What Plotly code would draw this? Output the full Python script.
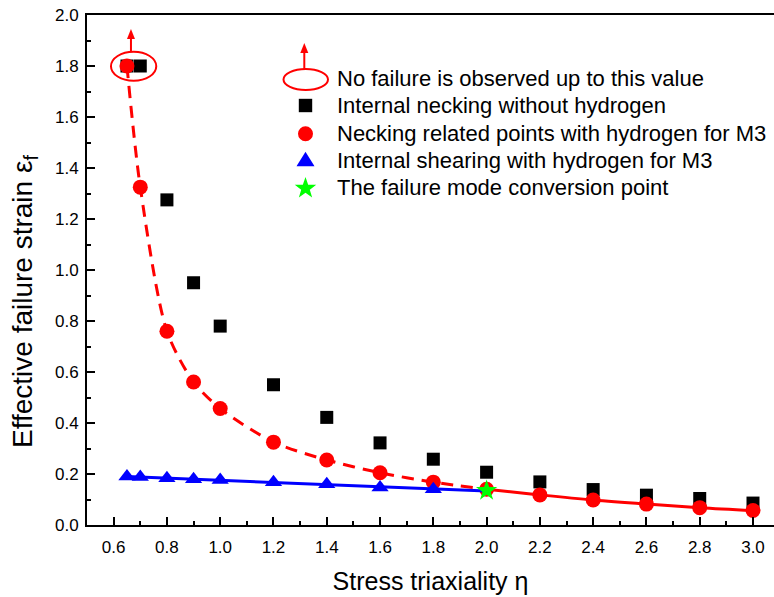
import numpy as np
import plotly.graph_objects as go

# ---------------- data ----------------
eta_no_h = [0.65, 0.7, 0.8, 0.9, 1.0, 1.2, 1.4, 1.6, 1.8, 2.0, 2.2, 2.4, 2.6, 2.8, 3.0]
eps_no_h = [1.8, 1.8, 1.275, 0.95, 0.78, 0.55, 0.422, 0.322, 0.258, 0.207, 0.169, 0.139, 0.117, 0.104, 0.086]

eta_neck_h = [0.65, 0.7, 0.8, 0.9, 1.0, 1.2, 1.4, 1.6, 1.8, 2.0, 2.2, 2.4, 2.6, 2.8, 3.0]
eps_neck_h = [1.8, 1.325, 0.76, 0.561, 0.457, 0.325, 0.255, 0.205, 0.168, 0.14, 0.118, 0.098, 0.082, 0.068, 0.057]

eta_shear_h = [0.65, 0.7, 0.8, 0.9, 1.0, 1.2, 1.4, 1.6, 1.8]
eps_shear_h = [0.19, 0.188, 0.183, 0.179, 0.176, 0.168, 0.16, 0.147, 0.14]

eta_conv = [2.0]
eps_conv = [0.135]

no_failure_eta = 0.675      # marked points reaching the test limit
no_failure_eps = 1.8

legend_labels = [
    "No failure is observed up to this value",
    "Internal necking without hydrogen",
    "Necking related points with hydrogen for M3",
    "Internal shearing with hydrogen for M3",
    "The failure mode conversion point",
]

x_ticks = [0.6, 0.8, 1.0, 1.2, 1.4, 1.6, 1.8, 2.0, 2.2, 2.4, 2.6, 2.8, 3.0]
y_ticks = [0.0, 0.2, 0.4, 0.6, 0.8, 1.0, 1.2, 1.4, 1.6, 1.8, 2.0]

# ---------------- layout constants ----------------
W, H = 774, 597
ML, MR, MT, MB = 87, 0, 15, 72
PW, PH = W - ML - MR, H - MT - MB
FONT = "Liberation Sans, Arial, sans-serif"
RED, BLUE, GREEN = "#FF0000", "#0000FF", "#00FF00"


def pxx(p):
    return (p - ML) / PW


def pxy(p):
    return (H - MB - p) / PH


fig = go.Figure()

# black squares
fig.add_trace(go.Scatter(x=eta_no_h, y=eps_no_h, mode="markers",
                         marker=dict(symbol="square", size=13, color="black"),
                         showlegend=False))

# red dashed (x <= 2.0) and solid (x >= 2.0) curves through the necking points
xn = np.array(eta_neck_h)
yn = np.array(eps_neck_h)
m1 = xn <= 2.0
m2 = xn >= 2.0
fig.add_trace(go.Scatter(x=xn[m1], y=yn[m1], mode="lines",
                         line=dict(color=RED, width=3, dash="12px,8px", shape="spline", smoothing=0.8),
                         showlegend=False))
fig.add_trace(go.Scatter(x=xn[m2], y=yn[m2], mode="lines",
                         line=dict(color=RED, width=3, shape="spline"),
                         showlegend=False))
fig.add_trace(go.Scatter(x=eta_neck_h, y=eps_neck_h, mode="markers",
                         marker=dict(symbol="circle", size=15, color=RED),
                         showlegend=False))

# blue fit line through shearing points + conversion point
xs = np.array(eta_shear_h + eta_conv)
ys = np.array(eps_shear_h + eps_conv)
coef = np.polyfit(xs, ys, 2)
xf = np.linspace(xs.min(), xs.max(), 60)
fig.add_trace(go.Scatter(x=xf, y=np.polyval(coef, xf), mode="lines",
                         line=dict(color=BLUE, width=3), showlegend=False))
fig.add_trace(go.Scatter(x=eta_shear_h, y=eps_shear_h, mode="markers",
                         marker=dict(symbol="triangle-up", size=15, color=BLUE),
                         showlegend=False))
fig.add_trace(go.Scatter(x=eta_conv, y=eps_conv, mode="markers",
                         marker=dict(symbol="star", size=16, color=GREEN),
                         showlegend=False))

shapes = []
annotations = []
HEAD = "M 0,0 L -4,-10 L 4,-10 Z"   # arrow head, pixel units, tip at anchor

# ellipse + arrow around the "no failure" points
shapes.append(dict(type="circle", xref="x", yref="y",
                   x0=no_failure_eta - 0.085, x1=no_failure_eta + 0.085,
                   y0=no_failure_eps - 0.058, y1=no_failure_eps + 0.056,
                   line=dict(color=RED, width=2)))
arrow_x = no_failure_eta - 0.01
shapes.append(dict(type="line", xref="x", yref="y", x0=arrow_x, x1=arrow_x,
                   y0=no_failure_eps + 0.056, y1=1.91, line=dict(color=RED, width=2)))
shapes.append(dict(type="path", xref="x", yref="y", xsizemode="pixel", ysizemode="pixel",
                   xanchor=arrow_x, yanchor=1.945, path=HEAD,
                   fillcolor=RED, line=dict(width=0)))

# ---------------- manual legend ----------------
text_x = pxx(335)
rows_y = [78, 105.5, 133.5, 160.5, 187.5]
for lab, ry in zip(legend_labels, rows_y):
    annotations.append(dict(x=text_x, y=pxy(ry), xref="paper", yref="paper",
                            xanchor="left", yanchor="middle", showarrow=False,
                            text=lab, font=dict(family=FONT, size=22, color="black")))

sym_x = pxx(305.5)
# ellipse symbol with arrow
shapes.append(dict(type="circle", xref="paper", yref="paper",
                   x0=pxx(283.5), x1=pxx(328), y0=pxy(90), y1=pxy(69),
                   line=dict(color=RED, width=2)))
shapes.append(dict(type="line", xref="paper", yref="paper", x0=pxx(304.3), x1=pxx(304.3),
                   y0=pxy(69), y1=pxy(50), line=dict(color=RED, width=2)))
shapes.append(dict(type="path", xref="paper", yref="paper", xsizemode="pixel", ysizemode="pixel",
                   xanchor=pxx(304.3), yanchor=pxy(43), path=HEAD,
                   fillcolor=RED, line=dict(width=0)))
# square
shapes.append(dict(type="rect", xref="paper", yref="paper", xsizemode="pixel", ysizemode="pixel",
                   xanchor=sym_x, yanchor=pxy(rows_y[1]), x0=-6.7, x1=6.7, y0=-6.7, y1=6.7,
                   fillcolor="black", line=dict(width=0)))
# circle
shapes.append(dict(type="circle", xref="paper", yref="paper", xsizemode="pixel", ysizemode="pixel",
                   xanchor=sym_x, yanchor=pxy(133.8), x0=-7.5, x1=7.5, y0=-7.5, y1=7.5,
                   fillcolor=RED, line=dict(width=0)))
# triangle
shapes.append(dict(type="path", xref="paper", yref="paper", xsizemode="pixel", ysizemode="pixel",
                   xanchor=sym_x, yanchor=pxy(159), path="M -9,-7.2 L 9,-7.2 L 0,7.2 Z",
                   fillcolor=BLUE, line=dict(width=0)))
# star
R, r_in = 11.3, 11.3 * 0.40
ang = np.pi / 2 + np.arange(10) * np.pi / 5
rad = np.where(np.arange(10) % 2 == 0, R, r_in)
pts = [(rr * np.cos(a), rr * np.sin(a)) for rr, a in zip(rad, ang)]
star_path = "M " + " L ".join(f"{px:.2f},{py:.2f}" for px, py in pts) + " Z"
shapes.append(dict(type="path", xref="paper", yref="paper", xsizemode="pixel", ysizemode="pixel",
                   xanchor=sym_x, yanchor=pxy(188.3), path=star_path,
                   fillcolor=GREEN, line=dict(width=0)))

# y-axis title as annotation
annotations.append(dict(x=pxx(24), y=pxy(302), xref="paper", yref="paper",
                        text="Effective failure strain ε<sub>f</sub>", textangle=-90,
                        showarrow=False, xanchor="center", yanchor="middle",
                        font=dict(family=FONT, size=28, color="black")))

fig.update_layout(
    width=W, height=H,
    margin=dict(l=ML, r=MR, t=MT, b=MB, pad=0),
    paper_bgcolor="white", plot_bgcolor="white",
    font=dict(family=FONT, color="black"),
    showlegend=False,
    shapes=shapes,
    annotations=annotations,
    xaxis=dict(range=[0.5, 0.5 + PW / 266.4], tickvals=x_ticks, tickformat=".1f",
               ticks="inside", ticklen=8, tickwidth=1.5, tickcolor="black",
               minor=dict(dtick=0.1, tick0=0.5, ticks="inside", ticklen=4, tickwidth=1.5, tickcolor="black"),
               showline=True, linecolor="black", linewidth=1.8, mirror=True,
               showgrid=False, zeroline=False, ticklabelstandoff=6,
               tickfont=dict(family=FONT, size=17, color="black"),
               title=dict(text="Stress triaxiality η", font=dict(family=FONT, size=25, color="black"),
                          standoff=16)),
    yaxis=dict(range=[0, 2.0], tickvals=y_ticks, tickformat=".1f",
               ticks="inside", ticklen=8, tickwidth=1.5, tickcolor="black",
               minor=dict(dtick=0.1, ticks="inside", ticklen=4, tickwidth=1.5, tickcolor="black"),
               showline=True, linecolor="black", linewidth=1.8, mirror=False,
               showgrid=False, zeroline=False, ticklabelstandoff=3,
               tickfont=dict(family=FONT, size=17, color="black")),
)

fig.write_html("out.html")
